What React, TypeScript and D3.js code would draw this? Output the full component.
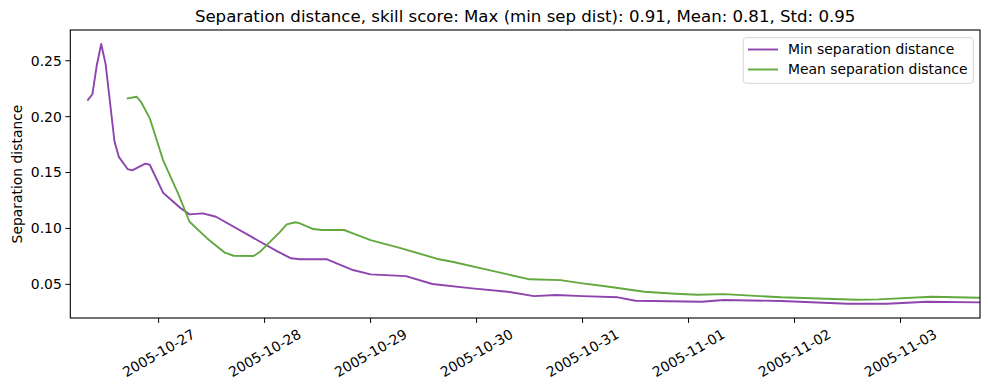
import * as React from 'react';
import * as d3 from 'd3';

// hours since 2005-10-26 00:00
const minHours = [8, 9, 10, 11, 12, 14, 15, 17, 18, 21, 22, 25, 29, 31, 34, 37, 47, 51, 54, 56, 62, 68, 72, 80, 86, 95, 103, 109, 114, 120, 128, 132, 147, 152, 165, 180, 189, 198, 210];
const minValues = [0.215, 0.22, 0.246, 0.265, 0.247, 0.178, 0.164, 0.153, 0.152, 0.158, 0.157, 0.132, 0.118, 0.1126, 0.1135, 0.1105, 0.0881, 0.0792, 0.0733, 0.0724, 0.0726, 0.0628, 0.0589, 0.0574, 0.0503, 0.0464, 0.0434, 0.0395, 0.0405, 0.0395, 0.0384, 0.0353, 0.0344, 0.036, 0.0351, 0.0326, 0.0326, 0.0344, 0.0339];

const meanHours = [17, 19, 20, 22, 25, 28.5, 31, 35, 39, 41, 45.5, 47, 51.5, 53, 55, 56, 59, 61, 66, 68, 72, 79, 87.5, 90.5, 108, 115, 120, 126, 134, 141, 146, 152, 165, 182, 187, 199, 210];
const meanValues = [0.2164, 0.2178, 0.2133, 0.1985, 0.1612, 0.1305, 0.106, 0.0911, 0.0783, 0.0756, 0.0753, 0.0792, 0.097, 0.1037, 0.1055, 0.1046, 0.0995, 0.0986, 0.0986, 0.0956, 0.0896, 0.0822, 0.0724, 0.0702, 0.0545, 0.0538, 0.0509, 0.0479, 0.0434, 0.0416, 0.0407, 0.0413, 0.0384, 0.0362, 0.0366, 0.0389, 0.038];

const yTicks = [0.05, 0.1, 0.15, 0.2, 0.25];
const seriesNames = ['Min separation distance', 'Mean separation distance'];
const colors = ['#8e44ad', '#62a83e'];
const title = 'Separation distance, skill score: Max (min sep dist): 0.91, Mean: 0.81, Std: 0.95';

const base = new Date(2005, 9, 26);
const toDate = (h: number) => new Date(base.getTime() + h * 3600 * 1000);

const W = 989;
const H = 390;
const left = 70.3;
const right = 980;
const top = 30;
const bottom = 318;
const font = 'DejaVu Sans, sans-serif';
const fs = 13.9;

const x = d3.scaleTime().domain([toDate(4), toDate(210)]).range([left, right]);
const y = d3.scaleLinear().domain([0.0199, 0.2775]).range([bottom, top]);
const fmt = d3.timeFormat('%Y-%m-%d');

const line = d3
  .line<[number, number]>()
  .x((d) => x(toDate(d[0])))
  .y((d) => y(d[1]));

export default function App() {
  const series = [
    d3.zip(minHours, minValues) as [number, number][],
    d3.zip(meanHours, meanValues) as [number, number][],
  ];
  const xTicks = d3.timeDay.range(toDate(24), toDate(210));

  return (
    <svg width={W} height={H} style={{ position: 'absolute', left: 0, top: 0, background: 'white' }} fontFamily={font}>
      <defs>
        <clipPath id="plot">
          <rect x={left} y={top} width={right - left} height={bottom - top} />
        </clipPath>
      </defs>
      <text x={(left + right) / 2} y={22} textAnchor="middle" fontSize={16.6} fill="#000">
        {title}
      </text>

      {/* lines */}
      <g clipPath="url(#plot)">
        {series.map((s, i) => (
          <path key={i} d={line(s) || ''} fill="none" stroke={colors[i]} strokeWidth={1.9} strokeLinejoin="round" strokeLinecap="square" />
        ))}
      </g>

      {/* spines */}
      <rect x={left} y={top} width={right - left} height={bottom - top} fill="none" stroke="#000" strokeWidth={1.1} />

      {/* y axis */}
      {yTicks.map((t) => (
        <g key={t}>
          <line x1={left - 4.9} x2={left} y1={y(t)} y2={y(t)} stroke="#000" strokeWidth={1} />
          <text x={left - 8.5} y={y(t)} dy="0.35em" textAnchor="end" fontSize={fs}>
            {t.toFixed(2)}
          </text>
        </g>
      ))}
      <text transform={`translate(17,${(top + bottom) / 2}) rotate(-90)`} textAnchor="middle" dominantBaseline="central" fontSize={fs}>
        Separation distance
      </text>

      {/* x axis */}
      {xTicks.map((t) => (
        <g key={t.getTime()}>
          <line x1={x(t)} x2={x(t)} y1={bottom} y2={bottom + 4.9} stroke="#000" strokeWidth={1} />
          <text
            transform={`translate(${x(t)},${bottom + 35}) rotate(-30)`}
            textAnchor="middle"
            dominantBaseline="central"
            fontSize={fs}
          >
            {fmt(t)}
          </text>
        </g>
      ))}

      {/* legend */}
      <rect x={743.3} y={37.7} width={230} height={45.6} rx={3} fill="white" fillOpacity={0.8} stroke="#d5d5d5" strokeWidth={1} />
      {seriesNames.map((n, i) => (
        <g key={n}>
          <line x1={748} x2={778} y1={49.5 + i * 20} y2={49.5 + i * 20} stroke={colors[i]} strokeWidth={1.9} />
          <text x={788} y={49.5 + i * 20} dy="0.35em" fontSize={fs}>
            {n}
          </text>
        </g>
      ))}
    </svg>
  );
}
